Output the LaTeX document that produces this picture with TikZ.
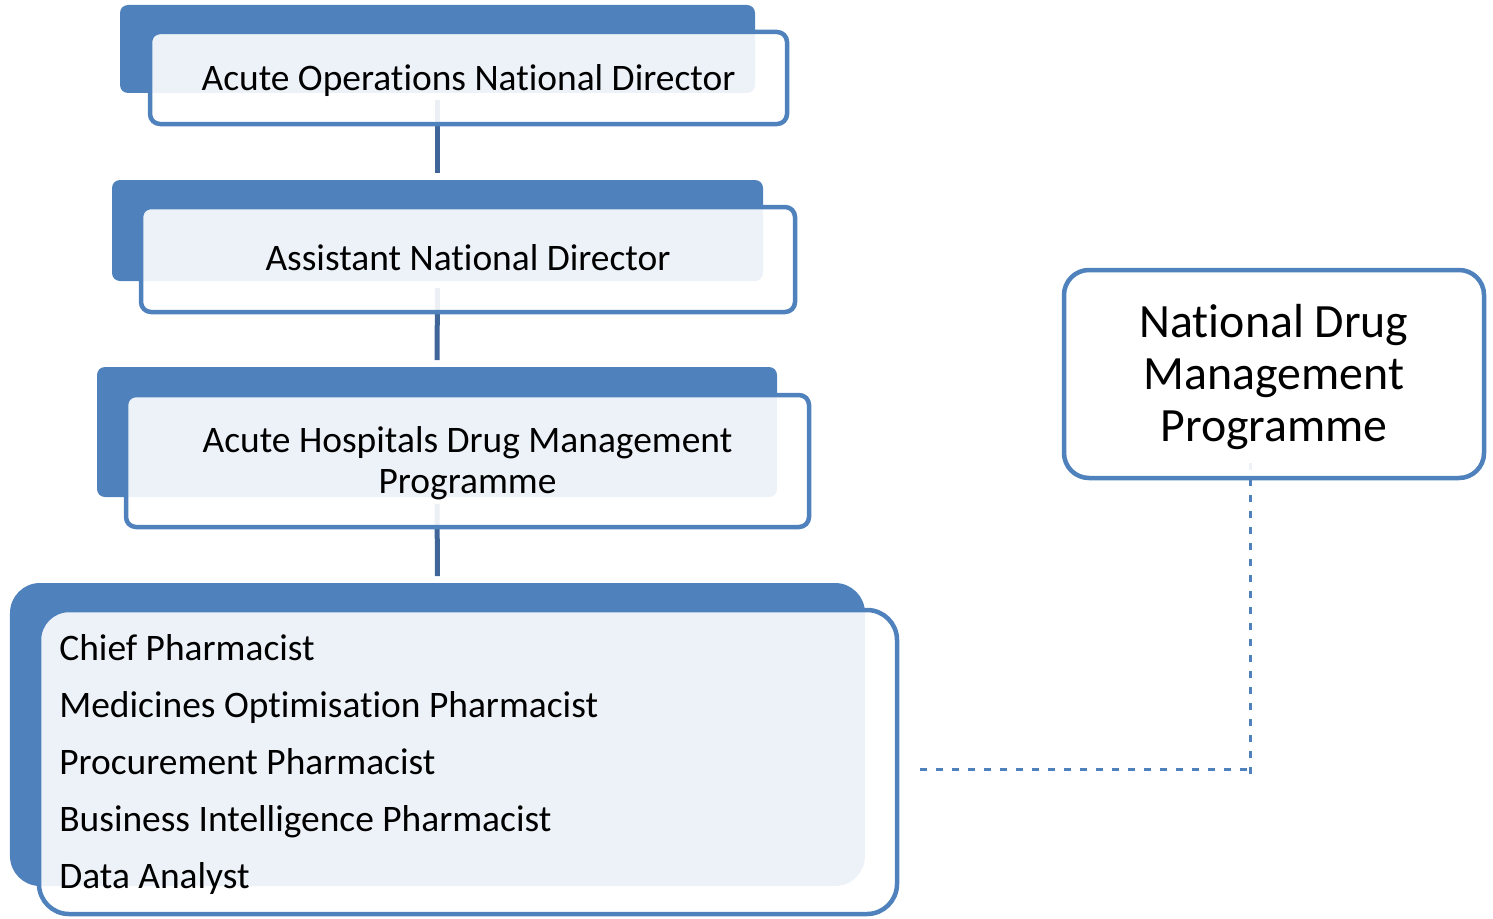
\documentclass[tikz,border=0pt]{standalone}
\usepackage{fontspec}
\setmainfont{Carlito}[Ligatures=NoCommon]
\definecolor{accent}{RGB}{79,129,189}
\definecolor{linkblue}{RGB}{64,101,152}
\tikzset{
  backbox/.style={rectangle, fill=accent, draw=none, rounded corners=#1, inner sep=0pt},
  backbox/.default=0.16cm,
  frontbox/.style={rectangle, draw=accent, line width=0.09cm, fill=white, fill opacity=0.9,
    rounded corners=#1, inner sep=0pt},
  frontbox/.default=0.2cm,
  label/.style={inner sep=0pt, align=center, font=\fontsize{21.3}{23.3}\selectfont},
  link/.style={draw=linkblue, line width=0.1cm, shorten <=0.13cm, shorten >=0.13cm},
  dotlink/.style={draw=accent, line width=0.06cm, dash pattern=on 0.14cm off 0.18cm}
}
\begin{document}
\begin{tikzpicture}
\useasboundingbox (0,0) rectangle (29.86,-18.36);

% blue tabs behind each box
\node[backbox] (b1back) at (8.75,-0.98) [minimum width=12.7cm, minimum height=1.76cm] {};
\node[backbox] (b2back) at (8.75,-4.61) [minimum width=13.02cm, minimum height=2.02cm] {};
\node[backbox] (b3back) at (8.74,-8.64) [minimum width=13.6cm, minimum height=2.6cm] {};
\node[backbox=0.6cm] (b4back) at (8.75,-14.69) [minimum width=17.1cm, minimum height=6.06cm] {};

% reporting lines
\draw[link] (b1back.south) -- (b2back.north);
\draw[link] (b2back.south) -- (b3back.north);
\draw[link] (b3back.south) -- (b4back.north);

% dotted link to the national programme
\coordinate (tie) at (18.4,-15.38);
\coordinate (bend) at (25.0,-15.38);
\coordinate (ndmpfoot) at (25.0,-9.26);
\coordinate (bendlow) at (25.0,-15.56);
\draw[dotlink] (tie) -- (bend);
\draw[dotlink] (ndmpfoot) -- (bendlow);

% front boxes
\node[frontbox] (b1) at (9.37,-1.56) [minimum width=12.74cm, minimum height=1.84cm] {};
\node[frontbox] (b2) at (9.36,-5.19) [minimum width=13.08cm, minimum height=2.1cm] {};
\node[frontbox] (b3) at (9.35,-9.22) [minimum width=13.66cm, minimum height=2.64cm] {};
\node[frontbox=0.6cm] (b4) at (9.36,-15.24) [minimum width=17.16cm, minimum height=6.08cm] {};
\node[frontbox=0.5cm] (ndmp) at (25.48,-7.48) [minimum width=8.4cm, minimum height=4.16cm] {};

% box texts
\node[label] (b1text) at (9.37,-1.62) {Acute Operations National Director};
\node[label] (b2text) at (9.36,-5.15) {Assistant National Director};
\node[label] (b3text) at (9.35,-9.26) {Acute Hospitals Drug Management\\Programme};
\node[label, anchor=west, align=left, font=\fontsize{21.3}{32.3}\selectfont] (staff) at (1.18,-15.29)
  {Chief Pharmacist\\Medicines Optimisation Pharmacist\\Procurement Pharmacist\\Business Intelligence Pharmacist\\Data Analyst};
\node[label, font=\fontsize{27.2}{29.5}\selectfont] (ndmptext) at (25.48,-7.54)
  {National Drug\\Management\\Programme};
\end{tikzpicture}
\end{document}
